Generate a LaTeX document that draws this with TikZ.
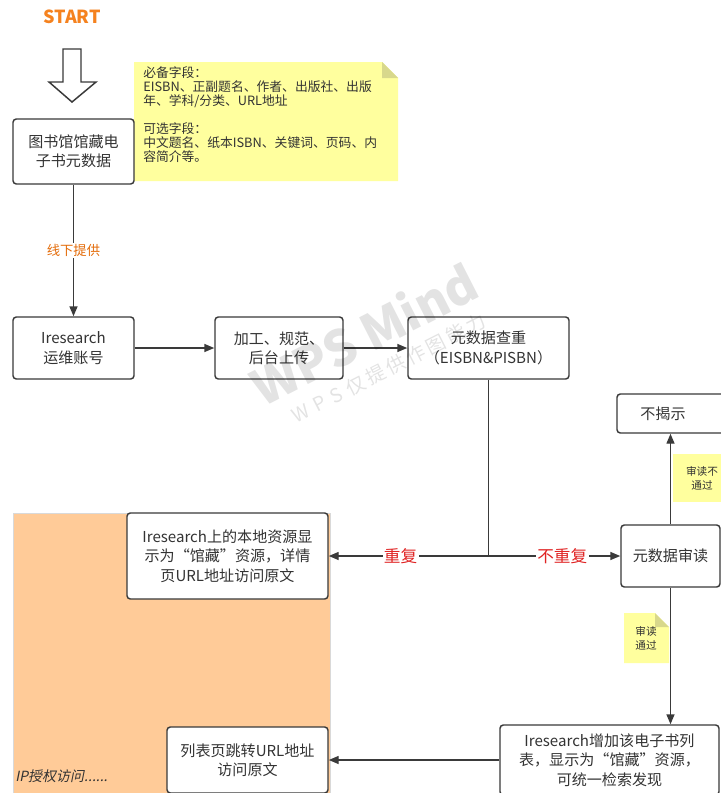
\documentclass[tikz,border=0pt]{standalone}
\usepackage{fontspec}
\setmainfont{Noto Sans CJK SC}
\newfontfamily\slantfont[FakeSlant=0.2]{Noto Sans CJK SC}
\usetikzlibrary{arrows.meta}
\definecolor{linec}{HTML}{3A3A3A}
\definecolor{textc}{HTML}{333333}
\definecolor{startc}{HTML}{F5821F}
\definecolor{labelc}{HTML}{E46C0A}
\definecolor{redc}{HTML}{E02424}
\definecolor{stickyc}{HTML}{FFFF9E}
\definecolor{foldc}{HTML}{D8D88C}
\definecolor{orangec}{HTML}{FFCB98}
\tikzset{
  box/.style 2 args={draw=linec, line width=1.1pt, rounded corners=2.5pt, fill=white,
    minimum width=#1*0.75pt, minimum height=#2*0.75pt, align=center, text=textc,
    font=\fontsize{11.3}{14.5}\selectfont, inner sep=0pt},
  arr/.style={draw=linec, line width=1.1pt, -{Triangle[length=7.5pt,width=6pt]}},
  conn/.style={draw=linec, line width=1.1pt},
  sticky/.style={fill=stickyc, draw=none},
  fold/.style={fill=foldc, draw=none},
  redlab/.style={text=redc, fill=white, inner sep=1pt, font=\fontsize{12.5}{14}\selectfont},
  wm/.style={text=black, text opacity=0.11, rotate=27, inner sep=0pt},
}
\begin{document}
\begin{tikzpicture}[x=0.75pt, y=-0.75pt]
\useasboundingbox (0,0) rectangle (721,793);
\clip (0,0) rectangle (721,793);
\fill[white] (0,0) rectangle (721,793);

% orange region
\draw[fill=orangec, draw=black!15, line width=0.6pt] (13,513) rectangle (330,800);
\node[anchor=west, text=textc, font=\slantfont\fontsize{10.5}{12}\selectfont, inner sep=0pt] (iplab) at (15,776) {IP授权访问......};

% START and hollow arrow
\node[text=startc, font=\bfseries\fontsize{13.5}{15}\selectfont] (start) at (72,17) {START};
\draw[draw=linec, line width=1.1pt, fill=white, line join=miter]
  (63,49) -- (81,49) -- (81,82) -- (96,82) -- (72,102) -- (49,82) -- (63,82) -- cycle;

% sticky note big
\fill[sticky] (134,62) -- (382,62) -- (398,78) -- (398,181) -- (134,181) -- cycle;
\fill[fold] (382,62) -- (398,78) -- (382,78) -- cycle;
\node[anchor=north west, align=left, text=textc, inner sep=0pt,
  font=\fontsize{9.6}{10.6}\selectfont] (note) at (143,66)
  {必备字段：\\EISBN、正副题名、作者、出版社、出版\\年、学科/分类、URL地址\\[10.6pt]可选字段：\\中文题名、纸本ISBN、关键词、页码、内\\容简介等。};

% boxes
\node[box={121}{65}] (b1) at (73.5,151.5) {图书馆馆藏电\\子书元数据};
\node[box={121}{62}] (b2) at (73.5,348) {Iresearch\\运维账号};
\node[box={128}{62}] (b3) at (279,348) {加工、规范、\\后台上传};
\node[box={161}{62}] (b4) at (488.5,348) {元数据查重\\（EISBN\&PISBN）};
\node[box={201}{86}] (b5) at (227.5,556) {Iresearch上的本地资源显\\示为“馆藏”资源，详情\\页URL地址访问原文};
\node[box={99}{62}] (b6) at (670.5,556) {元数据审读};
\node[box={112}{39}] (b7) at (673,413.5) {};
\node[text=textc, font=\fontsize{11.3}{14.5}\selectfont, inner sep=0pt] (b7t) at (663,413.5) {不揭示};
\node[box={219}{70}] (b8) at (609.5,760) {Iresearch增加该电子书列\\表，显示为“馆藏”资源，\\可统一检索发现};
\node[box={161}{66}] (b9) at (247.5,760) {列表页跳转URL地址\\访问原文};

% connectors
\draw[arr] (b1) -- node[fill=white, text=labelc, font=\fontsize{10}{12}\selectfont, inner sep=1pt] (l1) {线下提供} (b2);
\draw[arr] (b2) -- (b3);
\draw[arr] (b3) -- (b4);
\coordinate (j) at (b4.south |- b5.east);
\draw[conn] (b4.south) -- (j);
\draw[arr] (j) -- node[redlab, pos=0.55] (l2) {重复} (b5.east);
\draw[arr] (j) -- node[redlab, pos=0.56] (l3) {不重复} (b6.west);
\draw[arr] (b6.north) -- (b6.north |- b7.south);
\draw[arr] (b6.south) -- (b6.south |- b8.north);
\draw[arr] (b8.west) -- (b9.east);

% small sticky notes
\fill[sticky] (624,613) -- (655,613) -- (669,627) -- (669,663) -- (624,663) -- cycle;
\fill[fold] (655,613) -- (669,627) -- (655,627) -- cycle;
\node[align=center, text=textc, font=\fontsize{8}{10.5}\selectfont, inner sep=0pt] (n2) at (646,638) {审读\\通过};
\fill[sticky] (673,454) rectangle (735,502);
\node[align=center, text=textc, font=\fontsize{8}{10.5}\selectfont, inner sep=0pt] (n1) at (702,478) {审读不\\通过};

% watermark (on top, translucent)
\node[wm, font=\bfseries\fontsize{37}{40}\selectfont] (wm1) at (364,334) {WPS Mind};
\node[wm, font=\fontsize{14.5}{16}\selectfont] (wm2) at (389,368) {W\,\,P\,\,S\,\,仅\,提\,供\,作\,图\,能\,力};
\end{tikzpicture}
\end{document}
